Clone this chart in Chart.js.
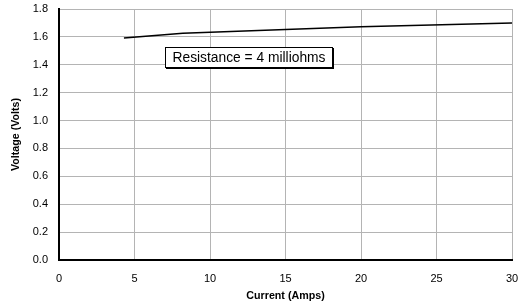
<!DOCTYPE html>
<html>
<head>
<meta charset="utf-8">
<script src="https://cdn.jsdelivr.net/npm/chart.js@4/dist/chart.umd.min.js"></script>
<style>
html,body{margin:0;padding:0;background:#fff;}
canvas{display:block;}
</style>
</head>
<body>
<canvas id="c" width="518" height="306"></canvas>
<script>
// Data
const currentAmps = [4.3, 8.2, 20, 30];
const voltageVolts = [1.592, 1.626, 1.673, 1.700];
const xTickValues = [0, 5, 10, 15, 20, 25, 30];
const yTickValues = [0.0, 0.2, 0.4, 0.6, 0.8, 1.0, 1.2, 1.4, 1.6, 1.8];
const annotationText = "Resistance = 4 milliohms";
const xTitle = "Current (Amps)";
const yTitle = "Voltage (Volts)";

const FONT = "'Liberation Sans', Arial, sans-serif";

const points = currentAmps.map((x, i) => ({x: x, y: voltageVolts[i]}));

const annotationPlugin = {
  id: 'annot',
  afterDatasetsDraw(chart) {
    const ctx = chart.ctx;
    const a = chart.chartArea;
    const x = a.left + 106, y = a.top + 38, w = 168, h = 21;
    ctx.save();
    ctx.fillStyle = '#000';
    ctx.fillRect(x + 1, y + 1, w, h);
    ctx.fillStyle = '#fff';
    ctx.fillRect(x, y, w, h);
    ctx.strokeStyle = '#000';
    ctx.lineWidth = 1;
    ctx.strokeRect(x + 0.5, y + 0.5, w - 1, h - 1);
    ctx.fillStyle = '#000';
    ctx.font = '13.8px ' + FONT;
    ctx.textAlign = 'center';
    ctx.textBaseline = 'middle';
    ctx.fillText(annotationText, x + w / 2, y + h / 2 + 1);
    ctx.restore();
  }
};

new Chart(document.getElementById('c'), {
  type: 'scatter',
  data: {
    datasets: [{
      data: points,
      showLine: true,
      borderColor: '#000',
      borderWidth: 1.5,
      pointRadius: 0,
      tension: 0,
      fill: false
    }]
  },
  options: {
    responsive: false,
    animation: false,
    devicePixelRatio: 1,
    layout: {padding: {left: 0, right: 6, top: 9, bottom: 0}},
    plugins: {legend: {display: false}, tooltip: {enabled: false}},
    scales: {
      x: {
        type: 'linear',
        min: 0, max: 30,
        afterBuildTicks(axis) { axis.ticks = xTickValues.map(v => ({value: v})); },
        afterFit(axis) { axis.height = 46; axis.paddingLeft = 0; axis.paddingRight = 0; },
        grid: {color: '#b4b4b4', lineWidth: 1, drawTicks: false},
        border: {color: '#000', width: 2},
        ticks: {color: '#000', font: {family: FONT, size: 11}, padding: 12, maxRotation: 0,
          callback: v => String(v)},
        title: {display: true, text: xTitle, color: '#000',
          font: {family: FONT, size: 10.7, weight: 'bold'}, padding: {top: 0, bottom: 4}}
      },
      y: {
        type: 'linear',
        min: 0, max: 1.8,
        afterBuildTicks(axis) { axis.ticks = yTickValues.map(v => ({value: v})); },
        afterFit(axis) { axis.width = 59; axis.paddingTop = 0; axis.paddingBottom = 0; },
        grid: {color: '#b4b4b4', lineWidth: 1, drawTicks: false},
        border: {color: '#000', width: 2},
        ticks: {color: '#000', font: {family: FONT, size: 11}, padding: 11,
          callback: v => Number(v).toFixed(1)},
        title: {display: true, text: yTitle, color: '#000',
          font: {family: FONT, size: 10.7, weight: 'bold'}, padding: {top: 10, bottom: 0}}
      }
    }
  },
  plugins: [annotationPlugin]
});
</script>
</body>
</html>
